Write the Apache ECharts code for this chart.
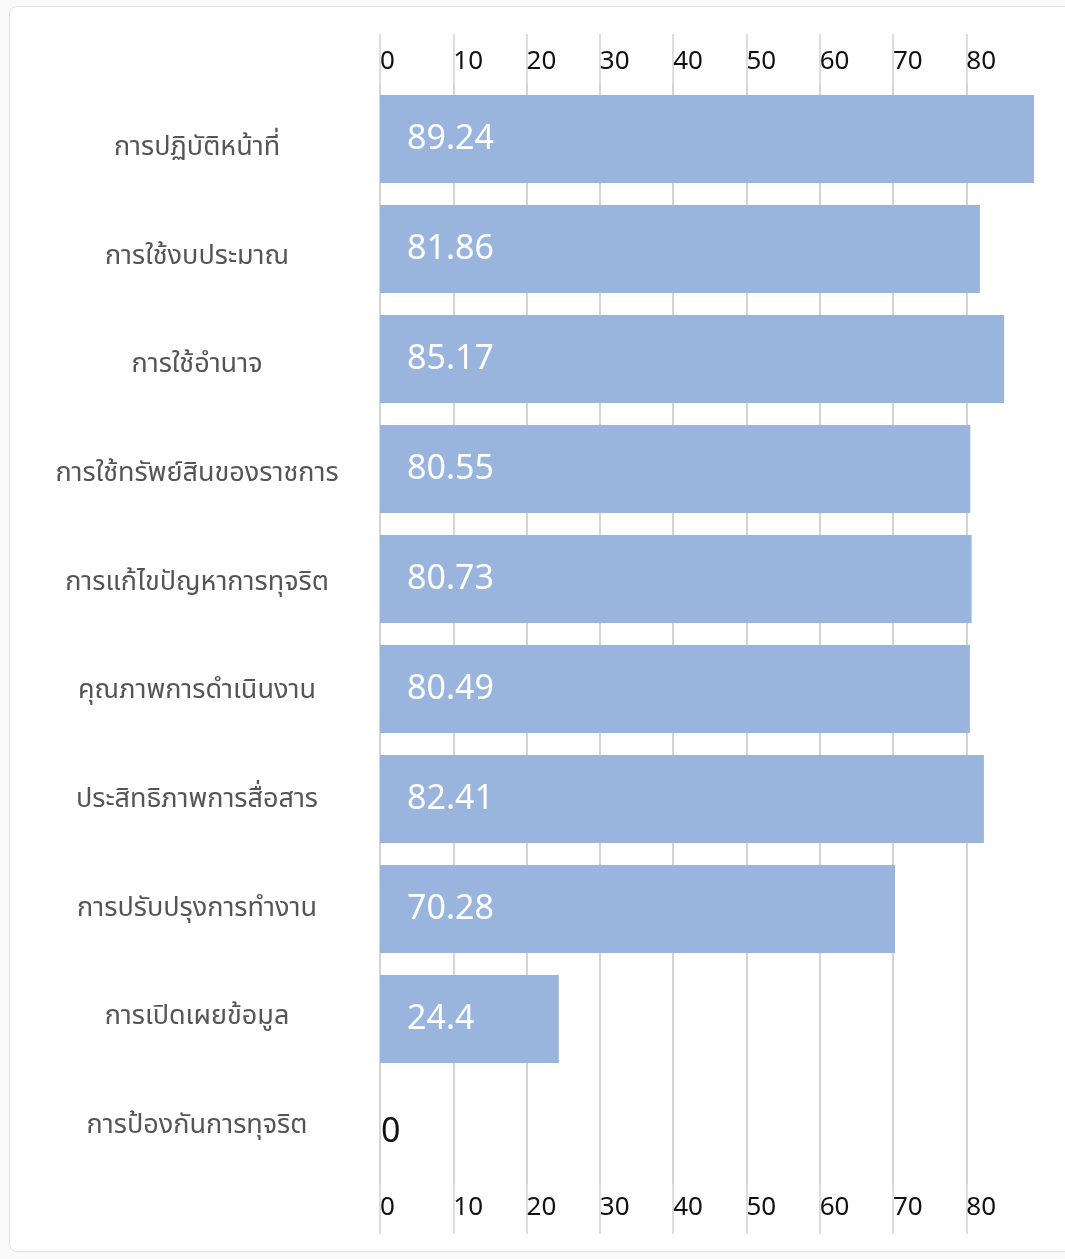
<!DOCTYPE html>
<html>
<head>
<meta charset="utf-8">
<script src="https://cdn.jsdelivr.net/npm/echarts@6/dist/echarts.min.js"></script>
<style>
html,body{margin:0;padding:0;background:#fafafa;width:1065px;height:1259px;overflow:hidden;}
#card{position:absolute;left:9px;top:6px;width:1080px;height:1246px;background:#fff;border:1px solid #e2e2e2;border-radius:8px;box-sizing:border-box;}
#chart{position:absolute;left:0;top:0;width:1065px;height:1259px;}
</style>
</head>
<body>
<div id="card"></div>
<div id="chart"></div>
<script>
const categories = [
  'การปฏิบัติหน้าที่',
  'การใช้งบประมาณ',
  'การใช้อำนาจ',
  'การใช้ทรัพย์สินของราชการ',
  'การแก้ไขปัญหาการทุจริต',
  'คุณภาพการดำเนินงาน',
  'ประสิทธิภาพการสื่อสาร',
  'การปรับปรุงการทำงาน',
  'การเปิดเผยข้อมูล',
  'การป้องกันการทุจริต'
];
const scores = [89.24, 81.86, 85.17, 80.55, 80.73, 80.49, 82.41, 70.28, 24.4, 0];
const tickStep = 10;
const axisMax = 89.24;

const FONT = "'Noto Sans Thai','Noto Sans','Open Sans',sans-serif";
const chart = echarts.init(document.getElementById('chart'), null, {renderer:'canvas'});

const xAxisBase = {
  type: 'value',
  gridIndex: 0,
  min: 0,
  max: axisMax,
  interval: tickStep,
  axisLine: {show:false},
  axisTick: {show:true, length:50, lineStyle:{color:'#d2d2d2', width:1.5}},
  splitLine: {show:true, showMaxLine:false, lineStyle:{color:'#d2d2d2', width:1.5}},
  axisLabel: {
    color:'#111', fontSize:26, fontFamily:FONT, align:'left', padding:0,
    margin:7, showMaxLabel:false,
    formatter: v => (v > 85 ? '' : String(v))
  }
};

chart.setOption({
  animation:false,
  grid:[
    {left:380, right:31, top:84, bottom:75, containLabel:false},
    {left:380, right:31, top:95, bottom:77, containLabel:false}
  ],
  xAxis:[
    Object.assign({}, xAxisBase, {position:'top'}),
    Object.assign({}, xAxisBase, {position:'bottom', axisLabel:Object.assign({}, xAxisBase.axisLabel, {margin:13})}),
    {type:'value', gridIndex:1, show:false}
  ],
  yAxis:[
    {
      type:'category', gridIndex:0, data:categories, inverse:true,
      axisLine:{show:false}, axisTick:{show:false}, axisLabel:{show:false}
    },
    {
      type:'category', gridIndex:1, data:categories, inverse:true,
      axisLine:{show:false}, axisTick:{show:false}, splitLine:{show:false},
      axisLabel:{color:'#555', fontSize:27, fontFamily:FONT, align:'center', margin:183}
    }
  ],
  series:[{
    type:'bar',
    xAxisIndex:0,
    yAxisIndex:0,
    barCategoryGap:'20%',
    itemStyle:{color:'#9ab5dd'},
    label:{show:true, position:'insideLeft', distance:27, offset:[0,3], color:'#fff', fontSize:34, fontFamily:FONT},
    data: scores.map(v => v === 0
      ? {value:v, label:{color:'#111', distance:1, offset:[0,6]}}
      : {value:v})
  }]
});
</script>
</body>
</html>
